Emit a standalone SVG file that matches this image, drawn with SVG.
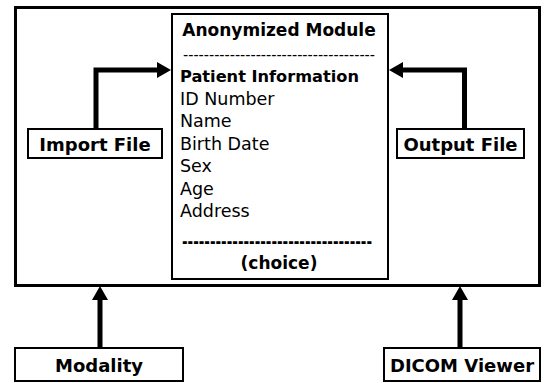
<svg xmlns="http://www.w3.org/2000/svg" width="544" height="383" viewBox="0 0 544 383">
<style>
.box{fill:#fff;stroke:#000;stroke-width:2}
.outer{fill:#fff;stroke:#000;stroke-width:3}
.lbl{font-family:"DejaVu Sans",sans-serif;font-weight:bold;font-size:18px;fill:#000;text-anchor:middle}
.t{font-family:"DejaVu Sans",sans-serif;font-size:17.5px;fill:#000}
.b{font-weight:bold;font-size:16.2px}
.d{font-family:"DejaVu Sans",sans-serif;font-size:15px;fill:#000}
.conn{fill:none;stroke:#000;stroke-width:5}
</style>
<defs>
<marker id="ah" markerUnits="userSpaceOnUse" markerWidth="14" markerHeight="16" viewBox="0 0 14 16" refX="0" refY="8" orient="auto">
<path d="M0,0 L14,8 L0,16 z" fill="#000"/>
</marker>
</defs>
<g id="system">
<rect class="outer" x="15.5" y="7.5" width="524" height="278"/>
</g>
<g id="module">
<rect class="box" x="172" y="14" width="216" height="265"/>
<text class="t b" x="279" y="36" text-anchor="middle" style="font-size:17px">Anonymized Module</text>
<text class="d" x="183" y="59.5" textLength="192" lengthAdjust="spacingAndGlyphs">-------------------------------------</text>
<text class="t b" x="180" y="82">Patient Information</text>
<text class="t" x="180" y="104.5">ID Number</text>
<text class="t" x="180" y="127">Name</text>
<text class="t" x="180" y="149.5">Birth Date</text>
<text class="t" x="180" y="172">Sex</text>
<text class="t" x="180" y="194.5">Age</text>
<text class="t" x="180" y="217">Address</text>
<text class="d" x="182" y="248" style="font-size:19px;font-weight:bold" textLength="190" lengthAdjust="spacingAndGlyphs">----------------------------------</text>
<text class="t b" x="279" y="268.5" text-anchor="middle" style="font-size:17px">(choice)</text>
</g>
<g id="import">
<rect class="box" x="28" y="129" width="134" height="29"/>
<text class="lbl" x="95" y="150.5">Import File</text>
</g>
<g id="output">
<rect class="box" x="397" y="129" width="127" height="29"/>
<text class="lbl" x="460.5" y="150.5">Output File</text>
</g>
<g id="modality">
<rect class="box" x="15" y="348" width="168" height="33"/>
<text class="lbl" x="99" y="371.5">Modality</text>
</g>
<g id="viewer">
<rect class="box" x="384" y="348" width="156" height="33"/>
<text class="lbl" x="462" y="371.5">DICOM Viewer</text>
</g>
<g id="connectors">
<path class="conn" d="M96 129 V70 H157" marker-end="url(#ah)"/>
<path class="conn" d="M464.5 129 V70 H403" marker-end="url(#ah)"/>
<path class="conn" d="M100 347 V300" marker-end="url(#ah)"/>
<path class="conn" d="M460 347 V300" marker-end="url(#ah)"/>
</g>
</svg>
